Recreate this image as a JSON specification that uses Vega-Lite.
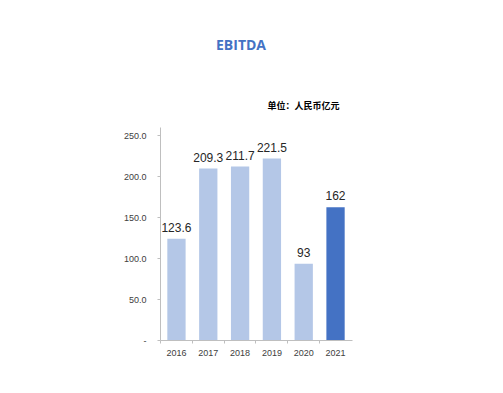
{
  "$schema": "https://vega.github.io/schema/vega-lite/v6.json",
  "width": 192,
  "height": 213,
  "autosize": {"type": "none"},
  "padding": {"left": 160, "top": 127, "right": 151, "bottom": 53},
  "background": "white",
  "config": {"view": {"stroke": null}, "font": "Liberation Sans"},
  "title": {"text": "EBITDA", "fontSize": 14, "fontWeight": "bold", "color": "#4472c4", "font": "Open Sans", "anchor": "middle", "dx": -15, "offset": 48},
  "data": {"values": [
    {"year": "2016", "value": 123.6},
    {"year": "2017", "value": 209.3},
    {"year": "2018", "value": 211.7},
    {"year": "2019", "value": 221.5},
    {"year": "2020", "value": 93},
    {"year": "2021", "value": 162}
  ]},
  "layer": [
    {
      "mark": {"type": "bar"},
      "encoding": {
        "x": {"field": "year", "type": "ordinal", "scale": {"paddingInner": 0.425, "paddingOuter": 0.23},
          "axis": {"title": null, "labelAngle": 0, "labelFontSize": 9, "labelColor": "#404040", "domainColor": "#bfbfbf", "tickColor": "#bfbfbf", "tickSize": 3, "bandPosition": -0.37, "labelPadding": 5}},
        "y": {"field": "value", "type": "quantitative", "scale": {"domain": [0, 250]},
          "axis": {"title": null, "grid": false, "values": [0, 50, 100, 150, 200, 250], "labelExpr": "datum.value == 0 ? '-' : format(datum.value, '.1f')", "labelFontSize": 9, "labelColor": "#404040", "domainColor": "#bfbfbf", "tickColor": "#bfbfbf", "tickSize": 3, "labelPadding": 11}},
        "color": {"condition": {"test": "datum.year == '2021'", "value": "#4472c4"}, "value": "#b4c7e7"}
      }
    },
    {
      "mark": {"type": "text", "baseline": "bottom", "dy": -4, "fontSize": 12, "color": "#262626"},
      "encoding": {
        "x": {"field": "year", "type": "ordinal",
          "axis": {"orient": "top", "title": "单位：人民币亿元", "titleFont": "Noto Sans CJK SC", "titleFontSize": 9, "titleFontWeight": "bold", "titleColor": "#000000", "titleAnchor": "end", "titleAlign": "right", "titleX": 179, "titlePadding": 17, "labels": false, "ticks": false, "domain": false}},
        "y": {"field": "value", "type": "quantitative"},
        "text": {"field": "value", "type": "quantitative"}
      }
    }
  ],
  "resolve": {"axis": {"x": "independent"}}
}
